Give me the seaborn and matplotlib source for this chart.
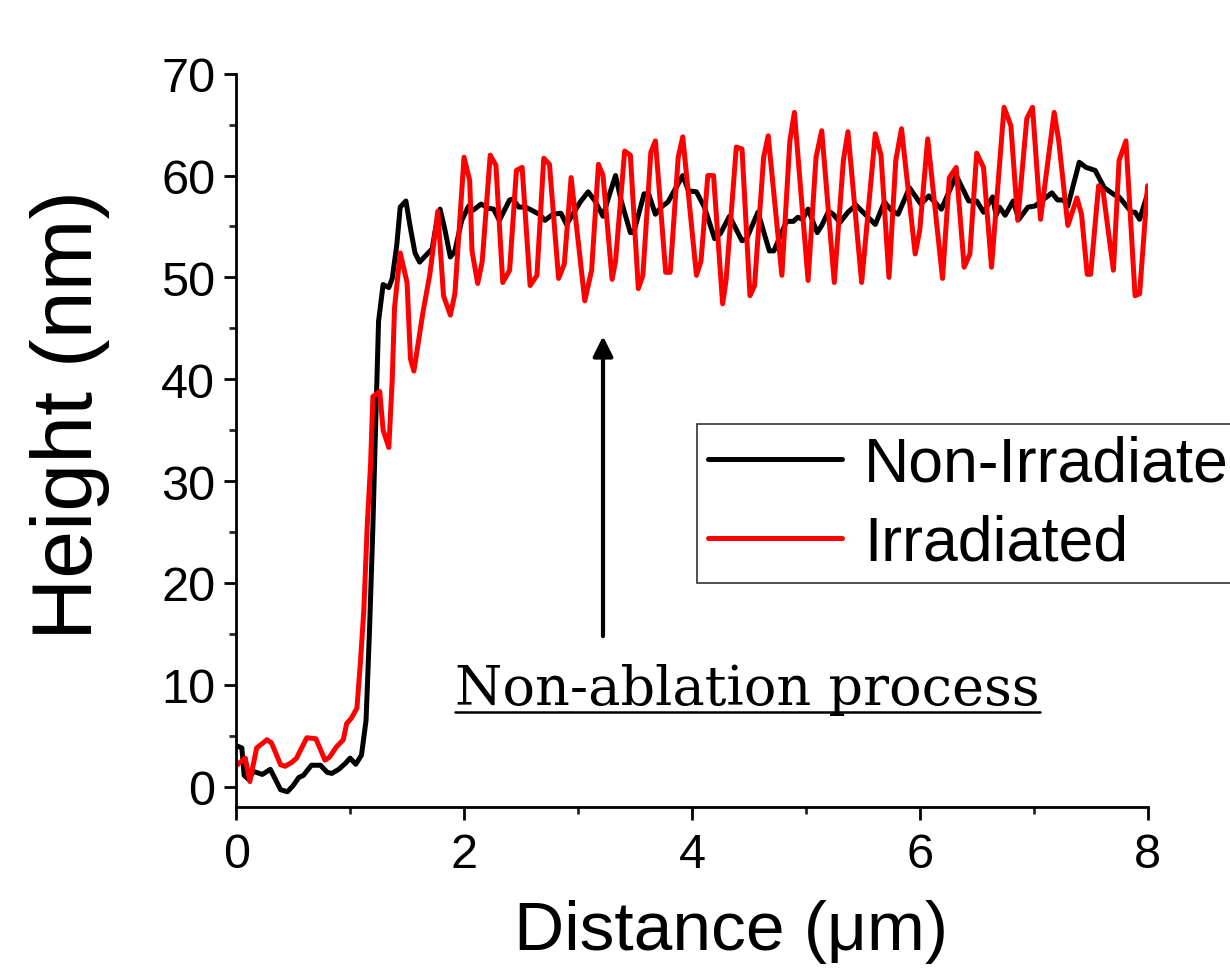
import matplotlib
matplotlib.use("Agg")
import matplotlib.pyplot as plt
import pandas as pd
import seaborn as sns
from matplotlib.ticker import MultipleLocator

# Height profiles (distance in um, height in nm)
non_irr_x = [0.006, 0.05, 0.07, 0.11, 0.15, 0.23, 0.30, 0.39, 0.45, 0.50, 0.55, 0.59, 0.66, 0.74,
             0.80, 0.84, 0.90, 0.96, 1.00, 1.05, 1.10, 1.14, 1.17, 1.20, 1.22, 1.25, 1.29, 1.34,
             1.37, 1.41, 1.44, 1.49, 1.53, 1.57, 1.61, 1.66, 1.72, 1.75, 1.79, 1.83, 1.88, 1.92,
             1.98, 2.04, 2.08, 2.15, 2.21, 2.26, 2.31, 2.40, 2.43, 2.48, 2.54, 2.61, 2.66, 2.71,
             2.78, 2.85, 2.90, 2.95, 3.02, 3.09, 3.15, 3.22, 3.27, 3.33, 3.38, 3.46, 3.49, 3.58,
             3.62, 3.68, 3.73, 3.79, 3.92, 3.97, 4.04, 4.11, 4.20, 4.25, 4.33, 4.44, 4.48, 4.58,
             4.68, 4.72, 4.83, 4.89, 4.93, 4.97, 5.02, 5.10, 5.14, 5.20, 5.24, 5.30, 5.37, 5.44,
             5.53, 5.61, 5.69, 5.75, 5.81, 5.91, 6.01, 6.08, 6.19, 6.32, 6.43, 6.50, 6.56, 6.64,
             6.67, 6.70, 6.75, 6.82, 6.87, 6.95, 7.01, 7.08, 7.16, 7.21, 7.26, 7.30, 7.40, 7.46,
             7.54, 7.62, 7.71, 7.75, 7.86, 7.89, 7.93, 8.00]
non_irr_y = [4.0, 3.8, 1.1, 0.7, 1.5, 1.2, 1.7, -0.3, -0.5, 0.1, 0.9, 1.1, 2.1, 2.1,
             1.4, 1.3, 1.7, 2.3, 2.8, 2.2, 3.1, 6.5, 15.2, 25.5, 33.8, 45.7, 49.3, 49.0,
             49.9, 53.2, 56.9, 57.5, 54.8, 52.4, 51.5, 52.1, 52.8, 54.8, 56.7, 54.8, 52.0, 52.6,
             55.6, 57.0, 56.6, 57.2, 56.8, 56.7, 55.6, 57.6, 57.7, 56.9, 56.9, 56.5, 56.2, 55.6,
             56.2, 56.3, 55.2, 56.1, 57.4, 58.4, 57.5, 56.0, 57.9, 60.0, 57.5, 54.4, 54.4, 58.2,
             58.2, 56.2, 56.9, 57.4, 60.0, 58.5, 58.4, 56.9, 53.8, 54.3, 56.0, 53.6, 53.8, 56.4,
             52.6, 52.6, 55.5, 55.5, 55.9, 55.7, 56.7, 54.4, 55.1, 56.5, 56.2, 55.4, 56.4, 57.1,
             56.1, 55.2, 57.4, 56.6, 56.2, 58.8, 57.2, 58.0, 56.7, 60.0, 57.5, 57.5, 56.4, 57.9,
             56.1, 56.9, 56.1, 57.5, 55.7, 56.9, 57.0, 57.6, 58.3, 57.6, 57.6, 57.0, 61.3, 60.8,
             60.5, 58.8, 58.1, 57.9, 56.4, 56.4, 55.7, 58.2]

irr_x = [0.01, 0.08, 0.12, 0.18, 0.27, 0.31, 0.39, 0.43, 0.49, 0.53, 0.62, 0.70, 0.78, 0.82,
         0.88, 0.94, 0.97, 1.01, 1.06, 1.09, 1.12, 1.15, 1.18, 1.20, 1.26, 1.29, 1.34, 1.37,
         1.39, 1.44, 1.50, 1.53, 1.56, 1.60, 1.64, 1.70, 1.77, 1.82, 1.88, 1.92, 2.00, 2.05,
         2.07, 2.12, 2.16, 2.23, 2.28, 2.34, 2.40, 2.46, 2.51, 2.58, 2.64, 2.70, 2.75, 2.83,
         2.88, 2.94, 3.06, 3.12, 3.18, 3.22, 3.30, 3.33, 3.41, 3.46, 3.53, 3.57, 3.64, 3.68,
         3.77, 3.81, 3.88, 3.92, 4.04, 4.08, 4.14, 4.19, 4.27, 4.30, 4.39, 4.44, 4.51, 4.55,
         4.63, 4.67, 4.79, 4.86, 4.90, 5.02, 5.09, 5.14, 5.25, 5.33, 5.37, 5.49, 5.61, 5.66,
         5.73, 5.79, 5.84, 5.96, 6.00, 6.07, 6.20, 6.26, 6.32, 6.39, 6.44, 6.50, 6.56, 6.63,
         6.74, 6.80, 6.86, 6.94, 6.99, 7.06, 7.18, 7.22, 7.30, 7.38, 7.42, 7.47, 7.50, 7.57,
         7.61, 7.70, 7.75, 7.81, 7.89, 7.93, 8.00]
irr_y = [2.15, 2.8, 0.5, 3.8, 4.6, 4.3, 2.15, 2.0, 2.4, 2.8, 4.8, 4.7, 2.6, 2.9,
         3.9, 4.6, 6.2, 6.7, 7.7, 12.1, 17.2, 25.5, 31.7, 38.3, 38.8, 35.0, 33.3, 40.0,
         47.0, 52.4, 49.5, 42.0, 40.8, 43.7, 46.6, 50.3, 56.5, 48.2, 46.3, 48.4, 61.8, 59.5,
         52.6, 49.4, 51.6, 62.0, 61.0, 49.5, 50.7, 60.5, 60.8, 49.2, 50.2, 61.7, 61.1, 49.9,
         51.3, 59.8, 47.7, 50.7, 61.1, 60.0, 49.8, 51.6, 62.4, 62.0, 48.9, 50.2, 62.3, 63.4,
         50.5, 50.5, 61.8, 63.8, 50.2, 51.6, 60.0, 60.0, 47.4, 49.7, 62.8, 62.6, 48.2, 49.2,
         61.8, 63.9, 50.2, 63.4, 66.2, 49.7, 61.8, 64.4, 49.5, 61.5, 64.3, 49.5, 64.1, 62.0,
         50.0, 61.5, 64.6, 52.3, 54.6, 63.6, 49.9, 59.8, 60.8, 51.0, 52.3, 62.2, 60.8, 51.0,
         66.7, 64.9, 55.6, 65.6, 66.7, 55.7, 66.2, 63.4, 55.1, 57.8, 56.2, 50.3, 50.3, 59.0,
         58.4, 50.7, 61.5, 63.4, 48.2, 48.4, 59.0]

series_labels = ["Non-Irradiated", "Irradiated"]
series_colors = ["black", "red"]

sns.set_style("ticks")
plt.rcParams['font.family'] = ['Liberation Sans', 'DejaVu Sans']
plt.rcParams['text.color'] = 'black'
plt.rcParams['axes.labelcolor'] = 'black'

fig = plt.figure(figsize=(12.3, 9.7), dpi=100)
ax = fig.add_axes([0.192, 0.167, 0.741, 0.756])

df_non = pd.DataFrame({"x": non_irr_x, "y": non_irr_y})
df_irr = pd.DataFrame({"x": irr_x, "y": irr_y})
for df, lab, col in zip([df_non, df_irr], series_labels, series_colors):
    sns.lineplot(data=df, x="x", y="y", ax=ax, color=col, label=lab,
                 linewidth=3.6, estimator=None, sort=False)

ax.set_xlim(0, 8)
ax.set_ylim(-2, 70)
ax.xaxis.set_major_locator(MultipleLocator(2))
ax.xaxis.set_minor_locator(MultipleLocator(1))
ax.yaxis.set_major_locator(MultipleLocator(10))
ax.yaxis.set_minor_locator(MultipleLocator(5))
ax.tick_params(which='major', direction='out', length=9, width=2, labelsize=35,
               colors='black', pad=6)
ax.tick_params(axis='x', which='major', pad=9)
ax.tick_params(which='minor', direction='out', length=5, width=2)
for s in ['top', 'right']:
    ax.spines[s].set_visible(False)
for s in ['left', 'bottom']:
    ax.spines[s].set_linewidth(2)
    ax.spines[s].set_color('black')

ax.set_xlabel("Distance (μm)", fontsize=50)
ax.xaxis.set_label_coords(0.543, -0.126)
ax.set_ylabel("Height (nm)", fontsize=62)
ax.yaxis.set_label_coords(-0.138, 0.536)

leg = ax.legend(loc='upper left', bbox_to_anchor=(0.5055, 0.5225), borderaxespad=0,
                fontsize=45, frameon=True, fancybox=False, edgecolor='black',
                handlelength=2.15, labelspacing=0.32, borderpad=0.17, handletextpad=0.35)
leg.get_frame().set_linewidth(1.2)
for h in leg.get_lines():
    h.set_linewidth(3.6)
for t in leg.get_texts():
    t.set_color('black')

ax.annotate('', xy=(3.22, 44.5), xytext=(3.22, 14.5),
            arrowprops=dict(arrowstyle='-|>', lw=3, color='black', mutation_scale=30))

txt = ax.text(4.49, 8.1, "Non-ablation process", fontsize=39, family='DejaVu Serif',
              ha='center', va='baseline', color='black')
fig.canvas.draw()
bb = txt.get_window_extent().transformed(ax.transData.inverted())
ax.plot([bb.x0, bb.x1], [7.3, 7.3], color='black', lw=1.8)

fig.savefig("out.png", dpi=100)
